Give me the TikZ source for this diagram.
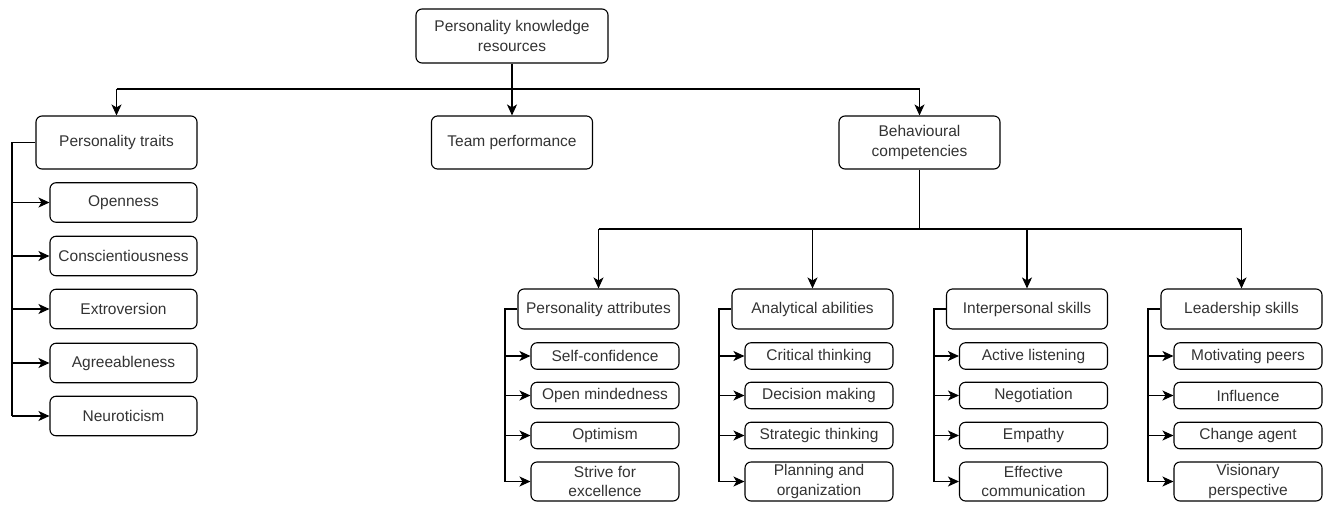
\documentclass[tikz,border=0pt]{standalone}
\usepackage{fontspec}
\setmainfont{Liberation Sans}
\usetikzlibrary{arrows.meta}
\tikzset{
  box/.style={draw=black, rounded corners=6pt, line width=1.1pt, align=center, inner sep=0pt,
    text=black!80, font=\fontsize{15.5}{19.5}\selectfont},
  rootbox/.style={box, minimum width=192pt, minimum height=54pt},
  lvlbox/.style={box, minimum width=161pt, minimum height=53pt},
  subbox/.style={box, minimum width=161pt, minimum height=40pt},
  traitbox/.style={box, minimum width=147pt, minimum height=39.5pt},
  leafbox/.style={box, minimum width=148pt, minimum height=26.5pt},
  leaftwo/.style={box, minimum width=148pt, minimum height=39pt},
  conn/.style={line width=1.1pt, draw=black},
  arr/.style={conn, -{Stealth[length=11pt,width=10pt,inset=3pt]}},
}
\begin{document}
\begin{tikzpicture}[x=1pt,y=-1pt]
\useasboundingbox (0,0) rectangle (1325,504);

% root
\node[rootbox] (root) at (512,36) {Personality knowledge\\resources};

% level 1
\node[lvlbox] (pt) at (116.5,142.5) {Personality traits};
\node[lvlbox] (tp) at (512,142.5) {Team performance};
\node[lvlbox] (bc) at (919.5,142.5) {Behavioural\\competencies};

\coordinate (bar) at (0,89);
\draw[conn] (pt.north |- bar) -- (bc.north |- bar);
\draw[arr] (root.south) -- (tp.north);
\draw[arr] (pt.north |- bar) -- (pt.north);
\draw[arr] (bc.north |- bar) -- (bc.north);

% personality traits children
\node[traitbox] (t1) at (123.5,202.5) {Openness};
\node[traitbox] (t2) at (123.5,256) {Conscientiousness};
\node[traitbox] (t3) at (123.5,309) {Extroversion};
\node[traitbox] (t4) at (123.5,363) {Agreeableness};
\node[traitbox] (t5) at (123.5,416) {Neuroticism};
\coordinate (tPT) at (12,0);
\draw[conn] (pt.west) -- (pt.west -| tPT) -- (tPT |- t5.west);
\foreach \c in {t1,t2,t3,t4,t5}
  \draw[arr] (tPT |- \c.west) -- (\c.west);

% sub categories
\node[subbox] (pa) at (598.5,309) {Personality attributes};
\node[subbox] (aa) at (812.5,309) {Analytical abilities};
\node[subbox] (is) at (1027,309) {Interpersonal skills};
\node[subbox] (ls) at (1241.5,309) {Leadership skills};

\coordinate (sbar) at (0,229);
\draw[conn] (bc.south) -- (bc.south |- sbar);
\draw[conn] (pa.north |- sbar) -- (ls.north |- sbar);
\foreach \s in {pa,aa,is,ls}
  \draw[arr] (\s.north |- sbar) -- (\s.north);

% leaves: Personality attributes
\node[leafbox] (pa1) at (605,356) {Self-confidence};
\node[leafbox] (pa2) at (605,395.5) {Open mindedness};
\node[leafbox] (pa3) at (605,435.5) {Optimism};
\node[leaftwo] (pa4) at (605,481.5) {Strive for\\excellence};
\coordinate (tpa) at (505,0);
\draw[conn] (pa.west) -- (pa.west -| tpa) -- (tpa |- pa4.west);
\foreach \c in {pa1,pa2,pa3,pa4}
  \draw[arr] (tpa |- \c.west) -- (\c.west);

% leaves: Analytical abilities
\node[leafbox] (aa1) at (819,356) {Critical thinking};
\node[leafbox] (aa2) at (819,395.5) {Decision making};
\node[leafbox] (aa3) at (819,435.5) {Strategic thinking};
\node[leaftwo] (aa4) at (819,481.5) {Planning and\\organization};
\coordinate (taa) at (719,0);
\draw[conn] (aa.west) -- (aa.west -| taa) -- (taa |- aa4.west);
\foreach \c in {aa1,aa2,aa3,aa4}
  \draw[arr] (taa |- \c.west) -- (\c.west);

% leaves: Interpersonal skills
\node[leafbox] (is1) at (1033.5,356) {Active listening};
\node[leafbox] (is2) at (1033.5,395.5) {Negotiation};
\node[leafbox] (is3) at (1033.5,435.5) {Empathy};
\node[leaftwo] (is4) at (1033.5,481.5) {Effective\\communication};
\coordinate (tis) at (934,0);
\draw[conn] (is.west) -- (is.west -| tis) -- (tis |- is4.west);
\foreach \c in {is1,is2,is3,is4}
  \draw[arr] (tis |- \c.west) -- (\c.west);

% leaves: Leadership skills
\node[leafbox] (ls1) at (1248,356) {Motivating peers};
\node[leafbox] (ls2) at (1248,395.5) {Influence};
\node[leafbox] (ls3) at (1248,435.5) {Change agent};
\node[leaftwo] (ls4) at (1248,481.5) {Visionary\\perspective};
\coordinate (tls) at (1148,0);
\draw[conn] (ls.west) -- (ls.west -| tls) -- (tls |- ls4.west);
\foreach \c in {ls1,ls2,ls3,ls4}
  \draw[arr] (tls |- \c.west) -- (\c.west);
\end{tikzpicture}
\end{document}
